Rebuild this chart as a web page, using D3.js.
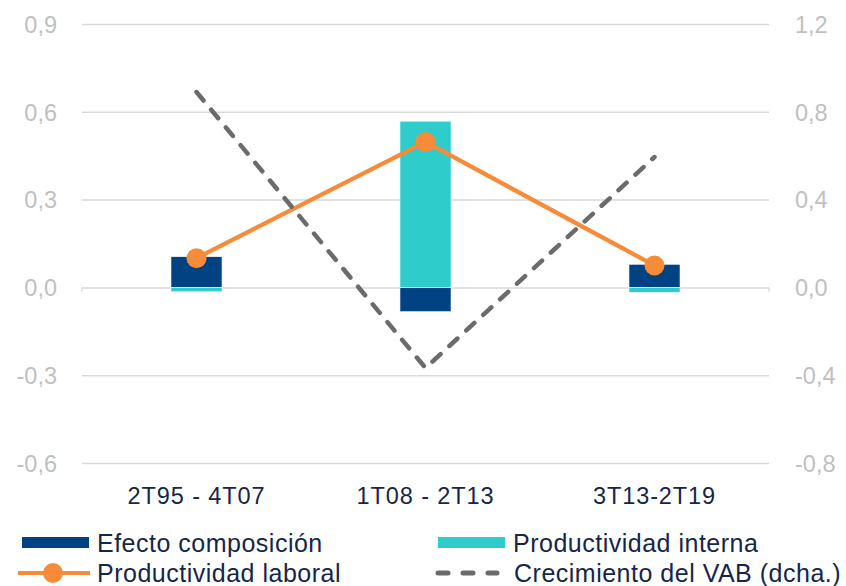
<!DOCTYPE html>
<html>
<head>
<meta charset="utf-8">
<script src="https://cdn.jsdelivr.net/npm/d3@7"></script>
<style>
  html, body { margin: 0; padding: 0; background: #fff; }
  svg { display: block; font-family: "Liberation Sans", Arial, sans-serif; }
</style>
</head>
<body>
<svg id="chart" width="846" height="586"></svg>
<script>
// Periods on the category axis
const categories = ["2T95 - 4T07", "1T08 - 2T13", "3T13-2T19"];

// Decomposition of labour productivity growth (left axis)
const efectoComposicion = [0.105, -0.083, 0.079];
const productividadInterna = [-0.015, 0.568, -0.017];
const productividadLaboral = [0.10, 0.497, 0.075];

// Gross value added growth (right axis)
const crecimientoVAB = [0.89, -0.367, 0.594];

// Axis ticks
const leftTicks = [-0.6, -0.3, 0.0, 0.3, 0.6, 0.9];
const rightTicks = [-0.8, -0.4, 0.0, 0.4, 0.8, 1.2];

const colors = {
  navy: "#004282",
  cyan: "#2ecccb",
  orange: "#f68b3a",
  gray: "#6b6b6b",
  grid: "#d9d9d9",
  tick: "#bfbfbf",
  text: "#15264a"
};

const svg = d3.select("#chart");
const plot = { left: 82, right: 769, top: 24, bottom: 463 };

const x = d3.scaleBand().domain(categories).range([plot.left, plot.right]).padding(0);
const yL = d3.scaleLinear().domain([-0.6, 0.9]).range([plot.bottom, plot.top]);
const yR = d3.scaleLinear().domain([-0.8, 1.2]).range([plot.bottom, plot.top]);
const fmt = d => d3.format(".1f")(d).replace(".", ",").replace("−", "-");

// Horizontal gridlines
const gridG = svg.append("g")
  .attr("transform", `translate(${plot.left},0)`)
  .call(d3.axisRight(yL).tickValues(leftTicks).tickSize(plot.right - plot.left).tickFormat(""));
gridG.select(".domain").remove();
gridG.selectAll(".tick line").attr("stroke", colors.grid).attr("stroke-width", 1.5);

// Small tick marks at the zero baseline ends
[plot.left, plot.right].forEach(px => {
  svg.append("line")
    .attr("x1", px).attr("x2", px)
    .attr("y1", yL(0)).attr("y2", yL(0) + 4)
    .attr("stroke", colors.grid).attr("stroke-width", 1.5);
});

// Left axis labels
const leftAxis = svg.append("g")
  .attr("transform", `translate(${plot.left - 25},0)`)
  .call(d3.axisLeft(yL).tickValues(leftTicks).tickSize(0).tickPadding(0).tickFormat(fmt));
leftAxis.select(".domain").remove();
leftAxis.selectAll("text")
  .attr("fill", colors.tick).style("font-size", "23.5px").attr("dy", "0.35em");

// Right axis labels
const rightAxis = svg.append("g")
  .attr("transform", `translate(${plot.right + 26},0)`)
  .call(d3.axisRight(yR).tickValues(rightTicks).tickSize(0).tickPadding(0).tickFormat(fmt));
rightAxis.select(".domain").remove();
rightAxis.selectAll("text")
  .attr("fill", colors.tick).style("font-size", "23.5px").attr("dy", "0.35em");

// Category labels
const catAxis = svg.append("g")
  .attr("transform", `translate(0,${plot.bottom})`)
  .call(d3.axisBottom(x).tickSize(0).tickPadding(0));
catAxis.select(".domain").remove();
catAxis.selectAll("text")
  .attr("fill", colors.text)
  .attr("y", 41).attr("dy", 0)
  .style("font-size", "23.5px")
  .style("letter-spacing", "0.9px");

// Stacked bars: positive and negative parts stack separately from zero
const barW = x.bandwidth() * 0.223;
const barData = categories.map((c, i) => {
  const parts = [
    { key: "comp", v: efectoComposicion[i], color: colors.navy },
    { key: "int", v: productividadInterna[i], color: colors.cyan }
  ];
  let pos = 0, neg = 0;
  return parts.map(p => {
    let y0, y1;
    if (p.v >= 0) { y0 = pos; y1 = pos + p.v; pos = y1; }
    else { y0 = neg; y1 = neg + p.v; neg = y1; }
    return { cat: c, y0, y1, color: p.color };
  });
}).flat();

svg.append("g").selectAll("rect")
  .data(barData)
  .join("rect")
  .attr("x", d => x(d.cat) + x.bandwidth() / 2 - barW / 2)
  .attr("width", barW)
  .attr("y", d => Math.min(yL(d.y0), yL(d.y1)))
  .attr("height", d => Math.abs(yL(d.y0) - yL(d.y1)))
  .attr("fill", d => d.color)
  .attr("stroke", "#ffffff")
  .attr("stroke-width", 0.6);

const cx = c => x(c) + x.bandwidth() / 2;

// Labour productivity line with markers
svg.append("path")
  .datum(productividadLaboral)
  .attr("fill", "none")
  .attr("stroke", colors.orange)
  .attr("stroke-width", 4.3)
  .attr("stroke-linejoin", "round")
  .attr("d", d3.line().x((d, i) => cx(categories[i])).y(d => yL(d)));

svg.append("g").selectAll("circle")
  .data(productividadLaboral)
  .join("circle")
  .attr("cx", (d, i) => cx(categories[i]))
  .attr("cy", d => yL(d))
  .attr("r", 10)
  .attr("fill", colors.orange);

// GVA growth dashed line (right axis)
svg.append("path")
  .datum(crecimientoVAB)
  .attr("fill", "none")
  .attr("stroke", colors.gray)
  .attr("stroke-width", 4.5)
  .attr("stroke-linecap", "round")
  .attr("stroke-dasharray", "11,12")
  .attr("d", d3.line().x((d, i) => cx(categories[i])).y(d => yR(d)));

// Legend
const legendItems = [
  { label: "Efecto composición", type: "rect", color: colors.navy, x: 22, y: 543 },
  { label: "Productividad interna", type: "rect", color: colors.cyan, x: 438, y: 543 },
  { label: "Productividad laboral", type: "marker", color: colors.orange, x: 18, y: 573 },
  { label: "Crecimiento del VAB (dcha.)", type: "dash", color: colors.gray, x: 435, y: 573 }
];

const legend = svg.append("g");
legendItems.forEach(it => {
  const g = legend.append("g").attr("transform", `translate(${it.x},${it.y})`);
  let tx = 79;
  if (it.type === "rect") {
    g.append("rect").attr("x", 0).attr("y", -6).attr("width", 67).attr("height", 11).attr("fill", it.color);
    tx = 75;
  } else if (it.type === "marker") {
    g.append("line").attr("x1", 0).attr("x2", 72).attr("stroke", it.color).attr("stroke-width", 4);
    g.append("circle").attr("cx", 35).attr("r", 10).attr("fill", it.color);
  } else {
    g.append("line").attr("x1", 3).attr("x2", 62).attr("stroke", it.color)
      .attr("stroke-width", 5).attr("stroke-linecap", "round").attr("stroke-dasharray", "10,15");
  }
  g.append("text").attr("x", tx).attr("dy", "0.35em")
    .attr("fill", colors.text).style("font-size", "25px")
    .style("letter-spacing", "0.5px").text(it.label);
});
</script>
</body>
</html>
